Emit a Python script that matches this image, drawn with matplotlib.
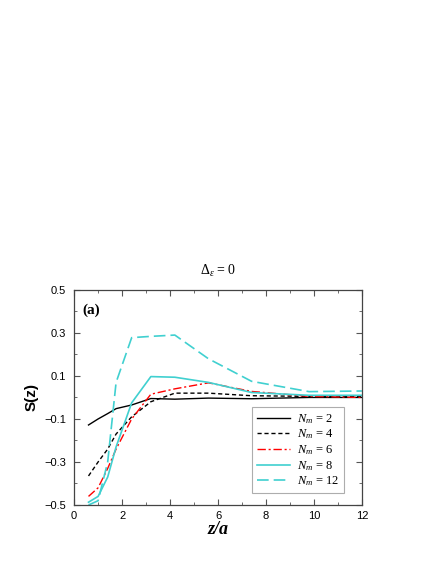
import matplotlib
matplotlib.use("Agg")
import matplotlib.pyplot as plt
from matplotlib.ticker import MultipleLocator, FixedLocator

z = [0.6, 1.0, 1.4, 1.75, 2.4, 3.2, 4.2, 5.6, 7.4, 9.8, 12.0]
s_n2 = [-0.128, -0.100, -0.075, -0.052, -0.035, -0.005, -0.008, -0.003, -0.006, 0.000, 0.000]
s_n4 = [-0.365, -0.300, -0.240, -0.170, -0.090, -0.020, 0.020, 0.020, 0.008, 0.005, 0.004]
s_n6 = [-0.460, -0.420, -0.330, -0.240, -0.100, 0.015, 0.040, 0.068, 0.028, 0.005, 0.000]
s_n8 = [-0.487, -0.460, -0.370, -0.230, -0.025, 0.097, 0.094, 0.070, 0.023, 0.010, 0.010]
s_n12 = [-0.500, -0.480, -0.300, 0.070, 0.278, 0.284, 0.290, 0.180, 0.075, 0.027, 0.030]
labels = [r"$N_m$ = 2", r"$N_m$ = 4", r"$N_m$ = 6", r"$N_m$ = 8", r"$N_m$ = 12"]
yticks = [-0.5, -0.3, -0.1, 0.1, 0.3, 0.5]
ytick_labels = ["\u22120.5", "\u22120.3", "\u22120.1", "0.1", "0.3", "0.5"]

plt.rcParams['mathtext.fontset'] = 'custom'
plt.rcParams['mathtext.it'] = 'Liberation Serif:italic'
plt.rcParams['mathtext.rm'] = 'Liberation Serif'

fig = plt.figure(figsize=(4.36, 5.64), dpi=100)
ax = fig.add_axes([0.170, 0.1046, 0.660, 0.3814])

cyan = "#40d0d0"
ax.plot(z, s_n2, color="black", lw=1.0, ls="-", label=labels[0])
ax.plot(z, s_n4, color="black", lw=1.0, ls=(0, (3, 2)), label=labels[1])
ax.plot(z, s_n6, color="red", lw=1.0, ls=(0, (6, 2, 1.5, 2)), label=labels[2])
ax.plot(z, s_n8, color=cyan, lw=1.2, ls="-", label=labels[3])
ax.plot(z, s_n12, color=cyan, lw=1.2, ls=(0, (7, 3)), label=labels[4])

ax.set_xlim(0, 12)
ax.set_ylim(-0.5, 0.5)
ax.xaxis.set_major_locator(MultipleLocator(2))
ax.xaxis.set_minor_locator(MultipleLocator(1))
ax.yaxis.set_major_locator(FixedLocator(yticks))
ax.set_yticklabels(ytick_labels)
ax.yaxis.set_minor_locator(MultipleLocator(0.1))
ax.tick_params(which="both", direction="in", top=True, right=True, labelsize=8,
               colors="#555555", labelcolor="black")
ax.tick_params(which="major", length=4, pad=4)
ax.tick_params(axis="y", which="major", pad=6)
ax.tick_params(which="minor", length=2)
for sp in ax.spines.values():
    sp.set_color("#444444")
    sp.set_linewidth(0.9)
for lbl in ax.get_xticklabels() + ax.get_yticklabels():
    lbl.set_family("Liberation Sans")

ax.set_title(r"$\Delta_\varepsilon$ = 0", fontsize=10, family="Liberation Serif", pad=11)
ax.set_xlabel("z/a", fontsize=13, fontweight="bold", fontstyle="italic",
              family="Liberation Serif", labelpad=0)
ax.set_ylabel("S(z)", fontsize=11, fontweight="bold", family="Liberation Sans", labelpad=4)
ax.text(0.03, 0.935, "(a)", transform=ax.transAxes, fontsize=11, fontweight="bold",
        family="Liberation Serif", va="top", ha="left")

leg = ax.legend(loc="lower right", bbox_to_anchor=(0.96, 0.025),
                prop={"family": "Liberation Serif", "size": 9},
                frameon=True, fancybox=False, edgecolor="#999999",
                handlelength=2.6, labelspacing=0.15, borderpad=0.4, handletextpad=0.6)
leg.get_frame().set_linewidth(0.8)

fig.savefig("out.png", dpi=100)
